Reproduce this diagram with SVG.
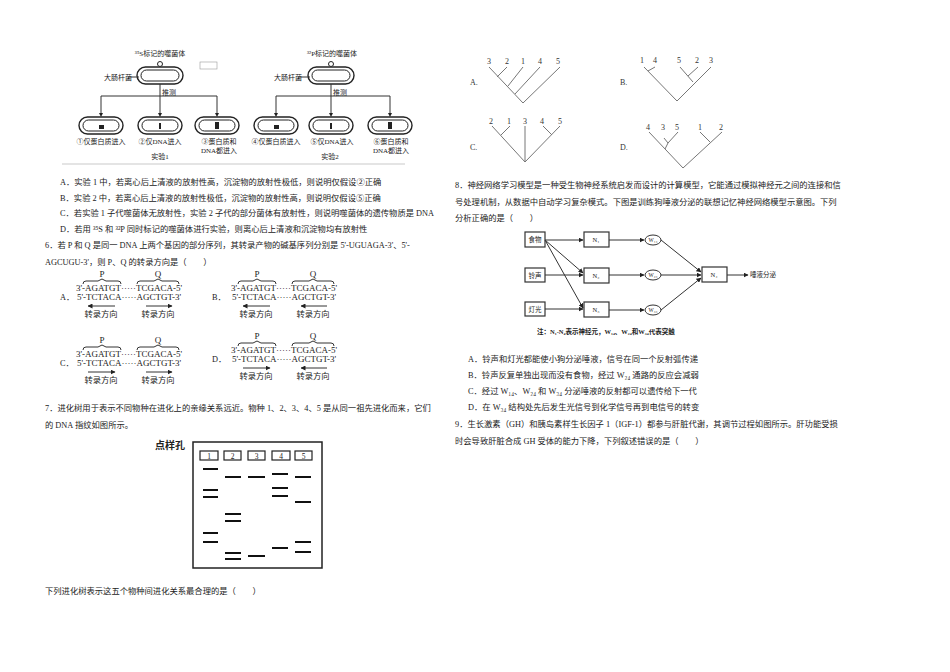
<svg xmlns="http://www.w3.org/2000/svg" width="950" height="672" viewBox="0 0 950 672">
<defs>
<style>
text{font-family:"Liberation Serif","Noto Sans CJK SC",serif;fill:#222}
.t{font-size:8.3px}
.s{font-size:7px}
.d{font-size:9px}
.ln{stroke:#333;stroke-width:1;fill:none}
.tr{stroke:#777;stroke-width:1;fill:none}
.cell{fill:#fff;stroke:#222;stroke-width:1.4}
.bx{fill:#fff;stroke:#333;stroke-width:1.2}
.band{stroke:#111;stroke-width:2.2}
.lab{font-size:8px;fill:#333}
</style>
<marker id="ar" viewBox="0 0 10 10" refX="9" refY="5" markerWidth="5" markerHeight="5" orient="auto"><path d="M0,0L10,5L0,10z" fill="#222"/></marker>
</defs>
<rect width="950" height="672" fill="#fff"/>

<g id="phage">
<text class="s" x="160" y="56" text-anchor="middle">³⁵S标记的噬菌体</text>
<text class="s" x="332" y="56" text-anchor="middle">³²P标记的噬菌体</text>
<rect x="200" y="62" width="17" height="7" fill="none" stroke="#999" stroke-width="0.6"/>
<rect class="cell" x="137" y="67" width="46" height="17" rx="8.5"/><rect x="141" y="70" width="38" height="11" rx="5.5" fill="none" stroke="#222"/>
<rect class="cell" x="308" y="67" width="46" height="17" rx="8.5"/><rect x="312" y="70" width="38" height="11" rx="5.5" fill="none" stroke="#222"/>
<circle cx="160" cy="64" r="2.5" fill="#fff" stroke="#222"/><circle cx="331" cy="64" r="2.5" fill="#fff" stroke="#222"/>
<text class="s" x="104" y="80">大肠杆菌</text><line class="ln" x1="128" y1="77" x2="139" y2="77"/>
<text class="s" x="274" y="80">大肠杆菌</text><line class="ln" x1="298" y1="77" x2="310" y2="77"/>
<text class="s" x="162" y="95">推测</text><text class="s" x="333" y="95">推测</text>
<path class="ln" d="M160,84V96M101,96H217M101,96V115M160,96V115M217,96V115M331,84V96M276,96H390M276,96V115M331,96V115M390,96V115"/>
<g fill="#222"><path d="M99,113l2,4l2,-4z M158,113l2,4l2,-4z M215,113l2,4l2,-4z M274,113l2,4l2,-4z M329,113l2,4l2,-4z M388,113l2,4l2,-4z"/></g>
<rect class="cell" x="79" y="117" width="44" height="17" rx="8.5"/><rect x="83" y="120" width="36" height="11" rx="5.5" fill="none" stroke="#222"/>
<rect class="cell" x="138" y="117" width="44" height="17" rx="8.5"/><rect x="142" y="120" width="36" height="11" rx="5.5" fill="none" stroke="#222"/>
<rect class="cell" x="195" y="117" width="44" height="17" rx="8.5"/><rect x="199" y="120" width="36" height="11" rx="5.5" fill="none" stroke="#222"/>
<rect class="cell" x="254" y="117" width="44" height="17" rx="8.5"/><rect x="258" y="120" width="36" height="11" rx="5.5" fill="none" stroke="#222"/>
<rect class="cell" x="309" y="117" width="44" height="17" rx="8.5"/><rect x="313" y="120" width="36" height="11" rx="5.5" fill="none" stroke="#222"/>
<rect class="cell" x="368" y="117" width="44" height="17" rx="8.5"/><rect x="372" y="120" width="36" height="11" rx="5.5" fill="none" stroke="#222"/>
<g fill="#222"><rect x="99" y="125" width="5" height="4"/><rect x="159" y="123" width="2" height="6"/><rect x="215" y="122" width="4" height="7"/><rect x="274" y="125" width="5" height="4"/><rect x="330" y="123" width="2" height="6"/><rect x="388" y="122" width="4" height="7"/></g>
<text class="s" x="101" y="144" text-anchor="middle">①仅蛋白质进入</text>
<text class="s" x="160" y="144" text-anchor="middle">②仅DNA进入</text>
<text class="s" x="219" y="144" text-anchor="middle">③蛋白质和</text>
<text class="s" x="219" y="153" text-anchor="middle">DNA都进入</text>
<text class="s" x="276" y="144" text-anchor="middle">④仅蛋白质进入</text>
<text class="s" x="332" y="144" text-anchor="middle">⑤仅DNA进入</text>
<text class="s" x="391" y="144" text-anchor="middle">⑥蛋白质和</text>
<text class="s" x="391" y="153" text-anchor="middle">DNA都进入</text>
<text class="s" x="160" y="159" text-anchor="middle">实验1</text>
<text class="s" x="330" y="159" text-anchor="middle">实验2</text>
<line x1="62" y1="164" x2="405" y2="164" stroke="#bbb" stroke-width="0.8"/>
</g>

<g id="q5text">
<text class="t" x="60" y="185">A．实验 1 中，若离心后上清液的放射性高，沉淀物的放射性极低，则说明仅假设②正确</text>
<text class="t" x="60" y="201">B．实验 2 中，若离心后上清液的放射性极低，沉淀物的放射性高，则说明仅假设⑤正确</text>
<text class="t" x="60" y="216">C．若实验 1 子代噬菌体无放射性，实验 2 子代的部分菌体有放射性，则说明噬菌体的遗传物质是 DNA</text>
<text class="t" x="60" y="232">D．若用 ³⁵S 和 ³²P 同时标记的噬菌体进行实验，则离心后上清液和沉淀物均有放射性</text>
<text class="t" x="45" y="248">6．若 P 和 Q 是同一 DNA 上两个基因的部分序列，其转录产物的碱基序列分别是 5'-UGUAGA-3'、5'-</text>
<text class="t" x="45" y="265">AGCUGU-3'，则 P、Q 的转录方向是（　　）</text>
</g>

<g id="dnaA">
<text class="d" x="102" y="277" text-anchor="middle">P</text><text class="d" x="158" y="277" text-anchor="middle">Q</text>
<path class="ln" stroke-width="0.8" d="M83,284q0,-3 3,-3h12l4,-2l4,2h12q3,0 3,3M137,284q0,-3 3,-3h14l4,-2l4,2h14q3,0 3,3"/>
<text class="d" x="76" y="291">3'-AGATGT·····TCGACA-5'</text>
<text class="d" x="77" y="300">5'-TCTACA·····AGCTGT-3'</text>
<text class="t" x="60" y="300">A．</text>
<line class="ln" x1="115" y1="306" x2="88" y2="306" marker-end="url(#ar)"/>
<line class="ln" x1="146" y1="306" x2="172" y2="306" marker-end="url(#ar)"/>
<text class="t" x="101" y="317" text-anchor="middle">转录方向</text><text class="t" x="158" y="317" text-anchor="middle">转录方向</text>
</g>
<g id="dnaB">
<text class="d" x="257" y="277" text-anchor="middle">P</text><text class="d" x="313" y="277" text-anchor="middle">Q</text>
<path class="ln" stroke-width="0.8" d="M238,284q0,-3 3,-3h12l4,-2l4,2h12q3,0 3,3M292,284q0,-3 3,-3h14l4,-2l4,2h14q3,0 3,3"/>
<text class="d" x="231" y="291">3'-AGATGT·····TCGACA-5'</text>
<text class="d" x="232" y="300">5'-TCTACA·····AGCTGT-3'</text>
<text class="t" x="212" y="300">B．</text>
<line class="ln" x1="270" y1="306" x2="243" y2="306" marker-end="url(#ar)"/>
<line class="ln" x1="327" y1="306" x2="301" y2="306" marker-end="url(#ar)"/>
<text class="t" x="256" y="317" text-anchor="middle">转录方向</text><text class="t" x="313" y="317" text-anchor="middle">转录方向</text>
</g>
<g id="dnaC">
<text class="d" x="102" y="343" text-anchor="middle">P</text><text class="d" x="158" y="343" text-anchor="middle">Q</text>
<path class="ln" stroke-width="0.8" d="M83,350q0,-3 3,-3h12l4,-2l4,2h12q3,0 3,3M137,350q0,-3 3,-3h14l4,-2l4,2h14q3,0 3,3"/>
<text class="d" x="76" y="357">3'-AGATGT·····TCGACA-5'</text>
<text class="d" x="77" y="366">5'-TCTACA·····AGCTGT-3'</text>
<text class="t" x="60" y="366">C．</text>
<line class="ln" x1="88" y1="372" x2="115" y2="372" marker-end="url(#ar)"/>
<line class="ln" x1="146" y1="372" x2="172" y2="372" marker-end="url(#ar)"/>
<text class="t" x="101" y="383" text-anchor="middle">转录方向</text><text class="t" x="158" y="383" text-anchor="middle">转录方向</text>
</g>
<g id="dnaD">
<text class="d" x="257" y="339" text-anchor="middle">P</text><text class="d" x="313" y="339" text-anchor="middle">Q</text>
<path class="ln" stroke-width="0.8" d="M238,346q0,-3 3,-3h12l4,-2l4,2h12q3,0 3,3M292,346q0,-3 3,-3h14l4,-2l4,2h14q3,0 3,3"/>
<text class="d" x="231" y="353">3'-AGATGT·····TCGACA-5'</text>
<text class="d" x="232" y="362">5'-TCTACA·····AGCTGT-3'</text>
<text class="t" x="212" y="362">D．</text>
<line class="ln" x1="243" y1="368" x2="270" y2="368" marker-end="url(#ar)"/>
<line class="ln" x1="327" y1="368" x2="301" y2="368" marker-end="url(#ar)"/>
<text class="t" x="256" y="379" text-anchor="middle">转录方向</text><text class="t" x="313" y="379" text-anchor="middle">转录方向</text>
</g>

<g id="q7text">
<text class="t" x="45" y="411">7．进化树用于表示不同物种在进化上的亲缘关系远近。物种 1、2、3、4、5 是从同一祖先进化而来，它们</text>
<text class="t" x="45" y="428">的 DNA 指纹如图所示。</text>
<text class="t" x="45" y="594">下列进化树表示这五个物种间进化关系最合理的是（　　）</text>
</g>

<g id="gel">
<text x="155" y="449" style="font-size:10px;font-weight:bold">点样孔</text>
<rect x="193" y="442" width="129" height="126" fill="none" stroke="#222" stroke-width="1.5"/>
<g fill="none" stroke="#222" stroke-width="1.2">
<rect x="200" y="451" width="18" height="9"/><rect x="224" y="451" width="17" height="9"/><rect x="248" y="451" width="17" height="9"/><rect x="272" y="451" width="18" height="9"/><rect x="295" y="451" width="17" height="9"/>
</g>
<g style="font-size:7.5px;font-family:'Liberation Sans',sans-serif" text-anchor="middle">
<text x="209" y="458.5">1</text><text x="232.5" y="458.5">2</text><text x="256.5" y="458.5">3</text><text x="281" y="458.5">4</text><text x="303.5" y="458.5">5</text></g>
<path class="band" d="M203,469h15M203,490h15M203,497h15M203,533h15M203,542h15M225,477h16M225,514h16M225,521h16M225,553h16M225,559h16M248,477h17M248,556h17M272,474h16M272,488h16M272,496h16M272,548h16M295,477h16M295,502h16M295,542h16M295,552h16"/>
</g>

<g id="trees">
<text class="lab" x="470" y="85">A.</text><text class="lab" x="620" y="85">B.</text><text class="lab" x="470" y="150">C.</text><text class="lab" x="620" y="150">D.</text>
<text class="lab" x="489" y="64" text-anchor="middle">3</text><text class="lab" x="507" y="64" text-anchor="middle">2</text><text class="lab" x="523" y="64" text-anchor="middle">1</text><text class="lab" x="540" y="64" text-anchor="middle">4</text><text class="lab" x="558" y="64" text-anchor="middle">5</text>
<text class="lab" x="642" y="63" text-anchor="middle">1</text><text class="lab" x="655" y="63" text-anchor="middle">4</text><text class="lab" x="679" y="63" text-anchor="middle">5</text><text class="lab" x="697" y="63" text-anchor="middle">2</text><text class="lab" x="711" y="63" text-anchor="middle">3</text>
<text class="lab" x="491" y="124" text-anchor="middle">2</text><text class="lab" x="509" y="124" text-anchor="middle">1</text><text class="lab" x="525" y="124" text-anchor="middle">3</text><text class="lab" x="542" y="124" text-anchor="middle">4</text><text class="lab" x="560" y="124" text-anchor="middle">5</text>
<text class="lab" x="648" y="130" text-anchor="middle">4</text><text class="lab" x="663" y="130" text-anchor="middle">3</text><text class="lab" x="677" y="130" text-anchor="middle">5</text><text class="lab" x="700" y="130" text-anchor="middle">1</text><text class="lab" x="721" y="130" text-anchor="middle">2</text>
<path class="tr" d="M489,67L523,103L560,67M507,67L497,77M523,67L508,86M540,67L515,94"/>
<path class="tr" d="M644,67L677,101L711,67M655,67L648,71M680,67L693,82M698,67L688,76"/>
<path class="tr" d="M492,126L525,162L560,126M525,126V162M510,126L501,135M543,126L552,135"/>
<path class="tr" d="M649,132L683,168L722,132M664,138L668,143L678,132M668,143L665,149M700,132L710,142"/>
</g>

<g id="q8text">
<text class="t" x="455" y="188">8．神经网络学习模型是一种受生物神经系统启发而设计的计算模型，它能通过模拟神经元之间的连接和信</text>
<text class="t" x="455" y="205">号处理机制，从数据中自动学习复杂模式。下图是训练狗唾液分泌的联想记忆神经网络模型示意图。下列</text>
<text class="t" x="455" y="221">分析正确的是（　　）</text>
</g>
<g id="nn">
<g id="food"><rect class="bx" x="525" y="232" width="20" height="15"/><text x="535" y="242" text-anchor="middle" style="font-size:6.5px">食物</text></g>
<g id="bell"><rect class="bx" x="525" y="268" width="20" height="14"/><text x="535" y="278" text-anchor="middle" style="font-size:6.5px">铃声</text></g>
<g id="light"><rect class="bx" x="525" y="302" width="20" height="14"/><text x="535" y="312" text-anchor="middle" style="font-size:6.5px">灯光</text></g>
<g id="N1"><rect class="bx" x="584" y="232" width="25" height="15"/><text x="596" y="242" text-anchor="middle" style="font-size:6.5px">N₁</text></g>
<g id="N2"><rect class="bx" x="584" y="268" width="25" height="15"/><text x="596" y="278" text-anchor="middle" style="font-size:6.5px">N₂</text></g>
<g id="N3"><rect class="bx" x="584" y="302" width="25" height="15"/><text x="596" y="312" text-anchor="middle" style="font-size:6.5px">N₃</text></g>
<g id="W14"><ellipse cx="653" cy="240" rx="8" ry="5" fill="#fff" stroke="#333"/><text x="653" y="242" text-anchor="middle" style="font-size:5.5px">W₁₄</text></g>
<g id="W24"><ellipse cx="653" cy="275" rx="8" ry="5" fill="#fff" stroke="#333"/><text x="653" y="277" text-anchor="middle" style="font-size:5.5px">W₂₄</text></g>
<g id="W34"><ellipse cx="653" cy="310" rx="8" ry="5" fill="#fff" stroke="#333"/><text x="653" y="312" text-anchor="middle" style="font-size:5.5px">W₃₄</text></g>
<g id="N4"><rect class="bx" x="702" y="267" width="25" height="15"/><text x="714" y="277" text-anchor="middle" style="font-size:6.5px">N₄</text></g>
<text x="750" y="277" style="font-size:6.5px">唾液分泌</text>
<g id="edges" class="ln" stroke-width="0.8">
<line x1="545" y1="240" x2="583" y2="240" marker-end="url(#ar)"/>
<line x1="545" y1="240" x2="583" y2="273" marker-end="url(#ar)"/>
<line x1="545" y1="240" x2="583" y2="308" marker-end="url(#ar)"/>
<line x1="545" y1="275" x2="583" y2="275" marker-end="url(#ar)"/>
<line x1="545" y1="309" x2="583" y2="309" marker-end="url(#ar)"/>
<line x1="609" y1="240" x2="644" y2="240" marker-end="url(#ar)"/>
<line x1="609" y1="275" x2="644" y2="275" marker-end="url(#ar)"/>
<line x1="609" y1="310" x2="644" y2="310" marker-end="url(#ar)"/>
<line x1="661" y1="240" x2="701" y2="272" marker-end="url(#ar)"/>
<line x1="661" y1="275" x2="701" y2="275" marker-end="url(#ar)"/>
<line x1="661" y1="310" x2="701" y2="278" marker-end="url(#ar)"/>
<line x1="727" y1="275" x2="748" y2="275" marker-end="url(#ar)"/>
</g>
<text x="537" y="334" style="font-size:6.5px;font-weight:bold">注：N₁-N₄表示神经元，W₁₄、W₂₄和W₃₄代表突触</text>
</g>
<g id="q8opts">
<text class="t" x="468" y="362">A．铃声和灯光都能使小狗分泌唾液，信号在同一个反射弧传递</text>
<text class="t" x="468" y="378">B．铃声反复单独出现而没有食物，经过 W₂₄ 通路的反应会减弱</text>
<text class="t" x="468" y="394">C．经过 W₁₄、W₂₄ 和 W₃₄ 分泌唾液的反射都可以遗传给下一代</text>
<text class="t" x="468" y="410">D．在 W₃₄ 结构处先后发生光信号到化学信号再到电信号的转变</text>
<text class="t" x="455" y="427">9．生长激素（GH）和胰岛素样生长因子 1（IGF-1）都参与肝脏代谢，其调节过程如图所示。肝功能受损</text>
<text class="t" x="455" y="444">时会导致肝脏合成 GH 受体的能力下降，下列叙述错误的是（　　）</text>
</g>
</svg>
